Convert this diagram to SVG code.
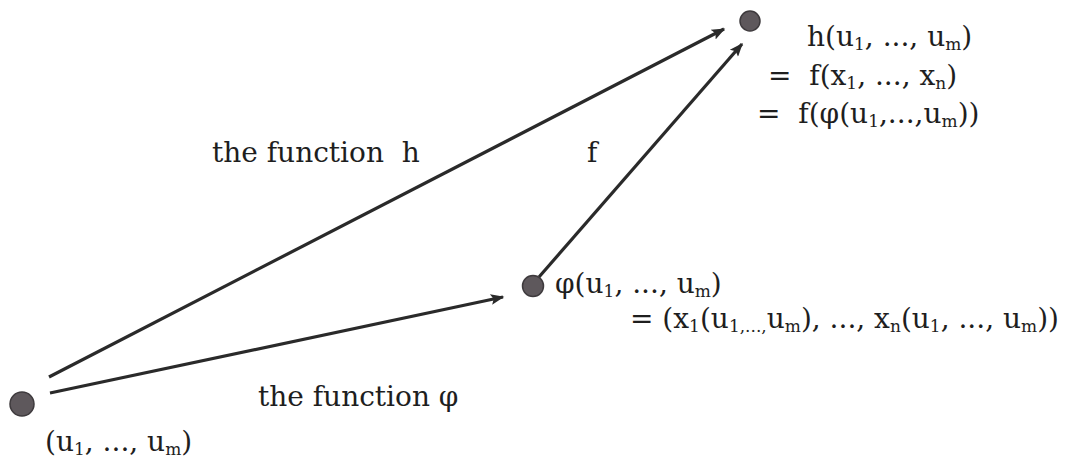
<svg xmlns="http://www.w3.org/2000/svg" width="1070" height="457" viewBox="0 0 1070 457">
<defs>
<style>
.t{font-family:"DejaVu Serif","Liberation Serif",serif;font-size:28px;fill:#1e1e1e}
.s{font-size:17px}
.dot{fill:#5e585c;stroke:#3e3a3d;stroke-width:1.5}
.ln{stroke:#2a2a2a;stroke-width:3.2;fill:none;marker-end:url(#ah)}
</style>
<marker id="ah" viewBox="0 0 10 8" refX="9" refY="4" markerWidth="5" markerHeight="3.4" orient="auto" markerUnits="strokeWidth">
<path d="M0,0 L10,4 L0,8 L2,4 Z" fill="#2a2a2a"/>
</marker>
</defs>
<rect width="1070" height="457" fill="#fff"/>
<g id="connectors">
<line class="ln" x1="49" y1="377" x2="724" y2="29"/>
<line class="ln" x1="50" y1="393" x2="503" y2="297"/>
<line class="ln" x1="539" y1="277" x2="742" y2="44"/>
</g>
<g id="node-h">
<circle class="dot" cx="750" cy="21" r="10"/>
<text class="t" x="807" y="46">h(u<tspan class="s" dy="4">1</tspan><tspan dy="-4">, ..., u</tspan><tspan class="s" dy="4">m</tspan><tspan dy="-4">)</tspan></text>
<text class="t" x="768" y="85" xml:space="preserve">=  f(x<tspan class="s" dy="4">1</tspan><tspan dy="-4">, ..., x</tspan><tspan class="s" dy="4">n</tspan><tspan dy="-4">)</tspan></text>
<text class="t" x="757" y="123" xml:space="preserve">=  f(φ(u<tspan class="s" dy="4">1</tspan><tspan dy="-4">,...,u</tspan><tspan class="s" dy="4">m</tspan><tspan dy="-4">))</tspan></text>
</g>
<g id="node-phi">
<circle class="dot" cx="533" cy="286" r="10.5"/>
<text class="t" x="555" y="293">φ(u<tspan class="s" dy="4">1</tspan><tspan dy="-4">, ..., u</tspan><tspan class="s" dy="4">m</tspan><tspan dy="-4">)</tspan></text>
<text class="t" x="630" y="328">= (x<tspan class="s" dy="4">1</tspan><tspan dy="-4">(u</tspan><tspan class="s" dy="4">1,...,</tspan><tspan dy="-4">u</tspan><tspan class="s" dy="4">m</tspan><tspan dy="-4">), ..., x</tspan><tspan class="s" dy="4">n</tspan><tspan dy="-4">(u</tspan><tspan class="s" dy="4">1</tspan><tspan dy="-4">, ..., u</tspan><tspan class="s" dy="4">m</tspan><tspan dy="-4">))</tspan></text>
</g>
<g id="node-u">
<circle class="dot" cx="22" cy="404" r="12"/>
<text class="t" x="45" y="451">(u<tspan class="s" dy="4">1</tspan><tspan dy="-4">, ..., u</tspan><tspan class="s" dy="4">m</tspan><tspan dy="-4">)</tspan></text>
</g>
<g id="labels">
<text class="t" x="212" y="162" xml:space="preserve">the function  h</text>
<text class="t" x="587" y="162">f</text>
<text class="t" x="258" y="406">the function φ</text>
</g>
</svg>
